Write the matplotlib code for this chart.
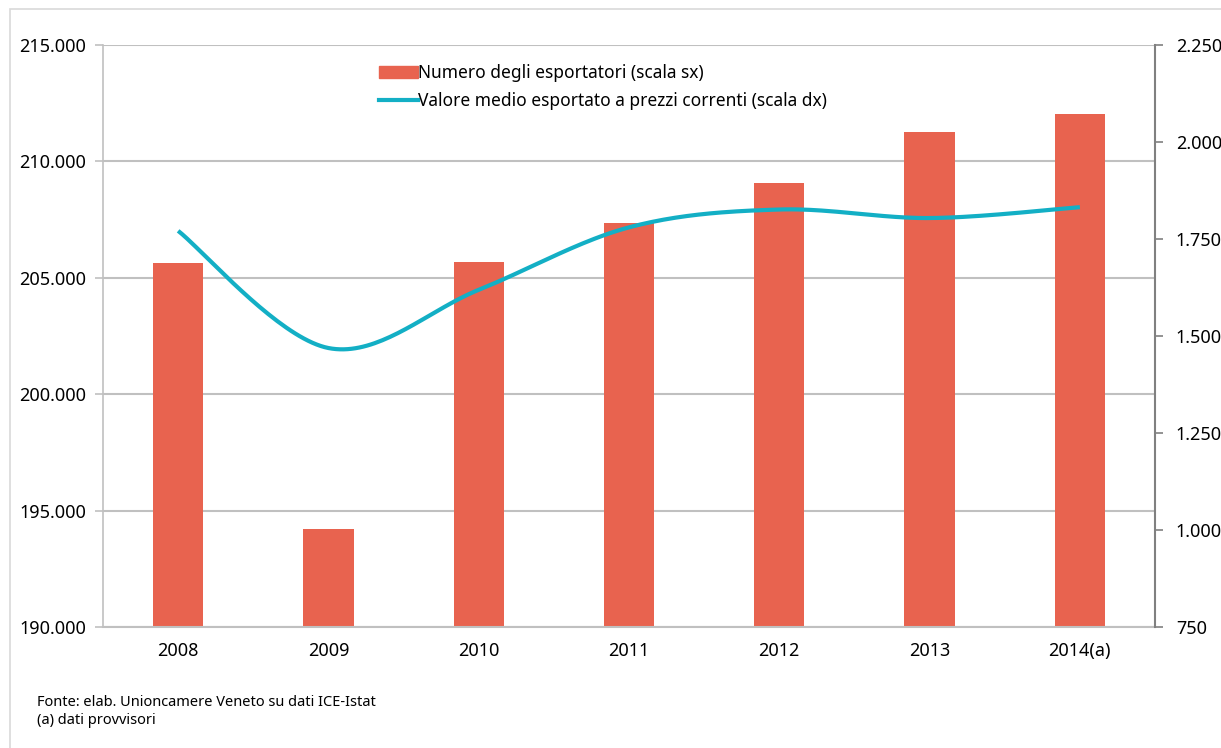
import matplotlib.pyplot as plt
import numpy as np
from matplotlib.patches import Rectangle, Patch
from matplotlib.lines import Line2D
from matplotlib.ticker import FuncFormatter

anni = ["2008", "2009", "2010", "2011", "2012", "2013", "2014(a)"]
esportatori = [205650, 194200, 205700, 207350, 209070, 211260, 212040]
valore_medio = [1771, 1469, 1619, 1780, 1826, 1804, 1832]

col_barre = "#E8634F"
col_linea = "#13AFC5"
grigio = "#C0C0C0"


def catmull_rom(xs, ys, n=40):
    # curva smussata stile Excel (Bezier con punti di controllo a 1/6)
    xs = np.asarray(xs, float)
    ys = np.asarray(ys, float)
    px = np.concatenate([[xs[0]], xs, [xs[-1]]])
    py = np.concatenate([[ys[0]], ys, [ys[-1]]])
    out_x, out_y = [], []
    t = np.linspace(0, 1, n)
    for i in range(1, len(px) - 2):
        p0 = np.array([px[i], py[i]])
        p3 = np.array([px[i + 1], py[i + 1]])
        c1 = p0 + (np.array([px[i + 1], py[i + 1]]) - np.array([px[i - 1], py[i - 1]])) / 6
        c2 = p3 - (np.array([px[i + 2], py[i + 2]]) - np.array([px[i], py[i]])) / 6
        b = ((1 - t) ** 3)[:, None] * p0 + (3 * (1 - t) ** 2 * t)[:, None] * c1 \
            + (3 * (1 - t) * t ** 2)[:, None] * c2 + (t ** 3)[:, None] * p3
        out_x.extend(b[:, 0])
        out_y.extend(b[:, 1])
    return np.array(out_x), np.array(out_y)


plt.rcParams['font.family'] = ['Noto Sans', 'DejaVu Sans']
W, H = 1221, 748
fig = plt.figure(figsize=(W / 100, H / 100), dpi=100)

# cornice esterna
fig.patches.append(Rectangle((10 / W, -0.1), 1.2, 1 - 9 / H + 0.1, transform=fig.transFigure,
                             fill=False, edgecolor="#D9D9D9", linewidth=1.2))

ax = fig.add_axes([103 / W, 1 - 627 / H, (1155 - 103) / W, (627 - 45) / H])
x = np.arange(len(anni))
ax.bar(x, esportatori, width=0.335, color=col_barre, zorder=2)
ax.set_xlim(-0.5, len(anni) - 0.5)
ax.set_ylim(190000, 215000)
ax.set_yticks(np.arange(190000, 215001, 5000))
ax.yaxis.set_major_formatter(FuncFormatter(lambda v, p: f"{v/1000:.3f}"))
ax.grid(axis='y', color=grigio, linewidth=1.5, zorder=0)
ax.set_axisbelow(True)
ax.set_xticks(x)
ax.set_xticklabels(anni)
ax.tick_params(axis='x', length=0, pad=11, labelsize=13)
ax.tick_params(axis='y', length=6, width=1.2, color=grigio, pad=6, labelsize=13)
for s in ['top', 'right']:
    ax.spines[s].set_visible(False)
ax.spines['left'].set_color(grigio)
ax.spines['left'].set_linewidth(1.2)
ax.spines['bottom'].set_color(grigio)
ax.spines['bottom'].set_linewidth(1.5)

ax2 = ax.twinx()
sx, sy = catmull_rom(x, valore_medio)
ax2.plot(sx, sy, color=col_linea, linewidth=3, solid_capstyle='butt', zorder=3)
ax2.set_ylim(750, 2250)
ax2.set_yticks(np.arange(750, 2251, 250))
ax2.yaxis.set_major_formatter(FuncFormatter(lambda v, p: f"{int(v):,}".replace(",", ".")))
ax2.tick_params(axis='y', length=6, width=1.2, color="#808080", pad=9, labelsize=13)
for s in ['top', 'left', 'bottom']:
    ax2.spines[s].set_visible(False)
ax2.spines['right'].set_color("#808080")
ax2.spines['right'].set_linewidth(1.5)

handles = [Patch(color=col_barre), Line2D([0], [0], color=col_linea, linewidth=3)]
labels = ["Numero degli esportatori (scala sx)",
          "Valore medio esportato a prezzi correnti (scala dx)"]
fig.legend(handles, labels, loc='upper left', bbox_to_anchor=(372 / W, 1 - 57 / H),
           frameon=False, fontsize=12.5, handlelength=2.25, handleheight=0.7,
           handletextpad=0.02, labelspacing=0.6, borderaxespad=0)

fig.text(37 / W, 1 - 703 / H, "Fonte: elab. Unioncamere Veneto su dati ICE-Istat",
         fontsize=10.5, va='center', ha='left')
fig.text(37 / W, 1 - 720 / H, "(a) dati provvisori", fontsize=10.5, va='center', ha='left')

fig.savefig("out.png", dpi=100)
